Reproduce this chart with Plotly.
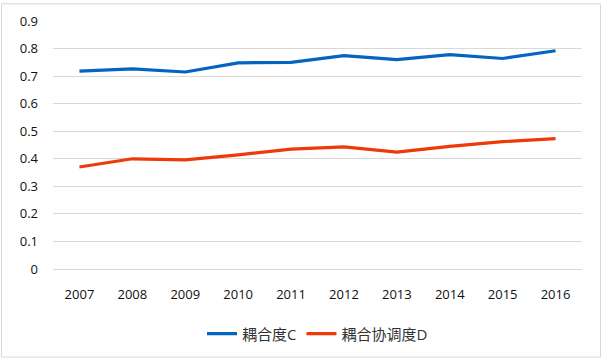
import plotly.graph_objects as go

years = ["2007", "2008", "2009", "2010", "2011", "2012", "2013", "2014", "2015", "2016"]
coupling_c = [0.718, 0.726, 0.715, 0.748, 0.750, 0.774, 0.760, 0.778, 0.764, 0.792]
coordination_d = [0.370, 0.400, 0.396, 0.414, 0.435, 0.443, 0.424, 0.445, 0.462, 0.473]
y_ticks = [0, 0.1, 0.2, 0.3, 0.4, 0.5, 0.6, 0.7, 0.8, 0.9]
y_labels = ["0", "0.1", "0.2", "0.3", "0.4", "0.5", "0.6", "0.7", "0.8", "0.9"]

L, R, T, B = 53, 20, 19, 91
W, H = 602, 362
pw, ph = W - L - R, H - T - B

fig = go.Figure()
fig.add_trace(go.Scatter(x=years, y=coupling_c, mode="lines", name="耦合度C",
                         line=dict(color="#0563C1", width=3.2)))
fig.add_trace(go.Scatter(x=years, y=coordination_d, mode="lines", name="耦合协调度D",
                         line=dict(color="#EE3A0A", width=3.2)))

fig.update_layout(
    width=W, height=H,
    margin=dict(l=L, r=R, t=T, b=B),
    paper_bgcolor="white", plot_bgcolor="white",
    font=dict(family="Open Sans, Noto Sans CJK SC, sans-serif", size=13, color="#111111"),
    showlegend=True,
    legend=dict(orientation="h", x=0.5, xanchor="center", y=-66 / ph, yanchor="middle",
                font=dict(size=15, family="Open Sans, Noto Sans CJK SC, sans-serif", color="#333333"),
                itemwidth=30, tracegroupgap=0, bgcolor="rgba(0,0,0,0)"),
    xaxis=dict(type="category", range=[-0.5, 9.5], showgrid=False, zeroline=False,
               showline=False, ticks="", ticklabelstandoff=16, fixedrange=True),
    yaxis=dict(range=[0, 0.9], tickvals=y_ticks, ticktext=y_labels, showgrid=True,
               gridcolor="#d9d9d9", gridwidth=1, zeroline=True, zerolinecolor="#d9d9d9",
               zerolinewidth=1, showline=False, ticks="", ticklabelstandoff=14, fixedrange=True),
    shapes=[dict(type="rect", xref="paper", yref="paper",
                 x0=(1.5 - L) / pw, x1=(600.5 - L) / pw,
                 y0=(T + ph - 360.5) / ph, y1=(T + ph - 1.5) / ph,
                 line=dict(color="#d9d9d9", width=1), fillcolor="rgba(0,0,0,0)", layer="below")],
)

fig.write_html("out.html", config={"displayModeBar": False},
               post_script="document.body.style.margin='0';document.body.style.padding='0';")
